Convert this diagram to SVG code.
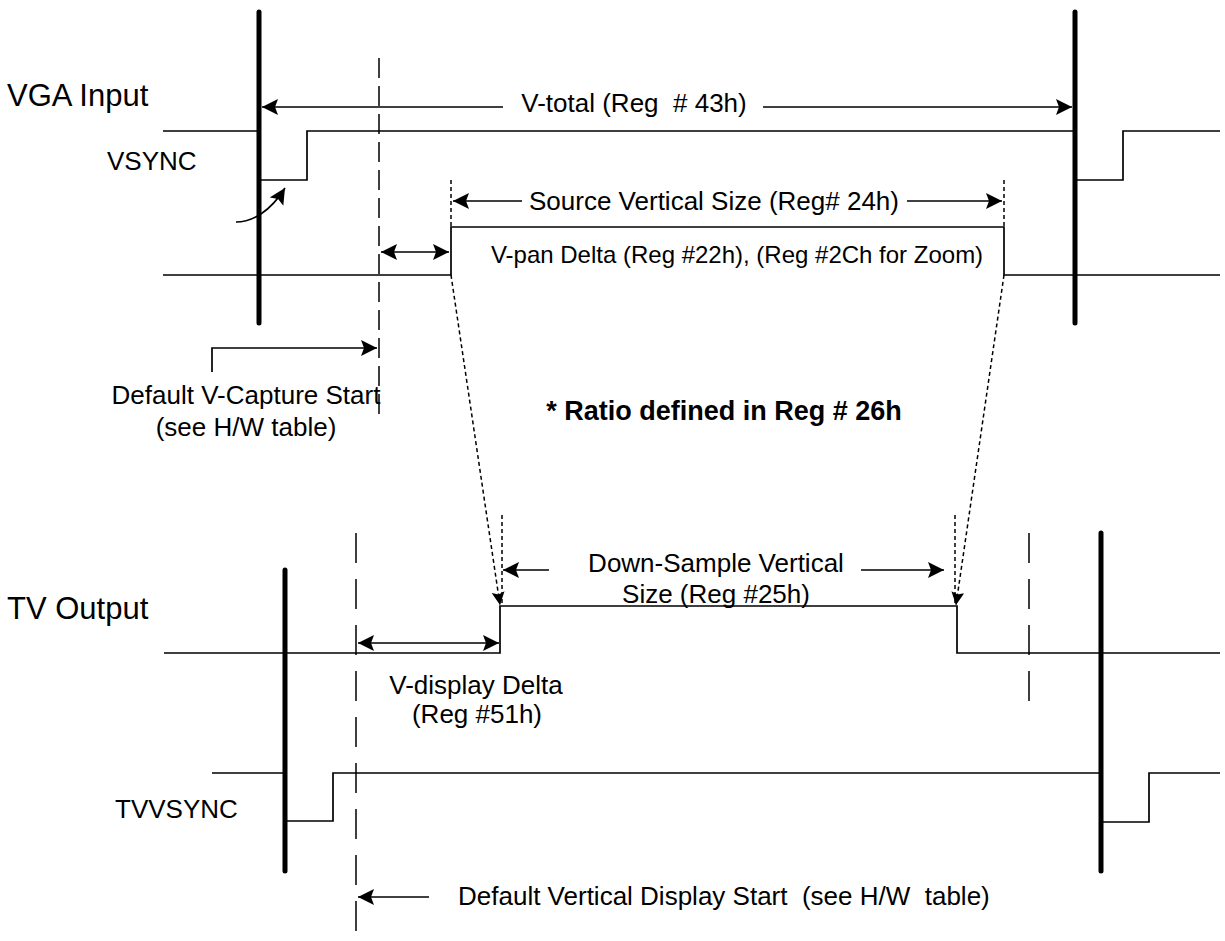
<svg xmlns="http://www.w3.org/2000/svg" width="1225" height="941" viewBox="0 0 1225 941">
<style>
.t{font-family:"Liberation Sans",Arial,sans-serif;fill:#000;white-space:pre}
.w{fill:none;stroke:#000;stroke-width:1.7}
.thick{fill:none;stroke:#000;stroke-width:5;stroke-linecap:round}
.dl{fill:none;stroke:#000;stroke-width:1.5;stroke-dasharray:20 8}
.dl2{fill:none;stroke:#000;stroke-width:1.5;stroke-dasharray:30 16}
.dot{fill:none;stroke:#000;stroke-width:1.5;stroke-dasharray:4 3}
.a{fill:none;stroke:#000;stroke-width:1.7}
</style>
<defs>
<marker id="ah" markerUnits="userSpaceOnUse" markerWidth="17" markerHeight="17" refX="16" refY="8" orient="auto-start-reverse"><path d="M0,0 L16,8 L0,16 L3,8 z" fill="#000"/></marker>
<marker id="ahs" markerUnits="userSpaceOnUse" markerWidth="14" markerHeight="14" refX="13" refY="6.5" orient="auto"><path d="M0,0 L13,6.5 L0,13 L2.5,6.5 z" fill="#000"/></marker>
</defs>
<rect width="1225" height="941" fill="#fff"/>

<g id="vga-input">
<text class="t" x="7" y="106" font-size="31">VGA Input</text>
<text class="t" x="107" y="170" font-size="26">VSYNC</text>
<line class="thick" x1="259" y1="12" x2="259" y2="323"/>
<line class="thick" x1="1075" y1="12" x2="1075" y2="323"/>
<path class="w" d="M163,131 H259 V180 H307 V131 H1075 V180 H1123 V131 H1220"/>
<path class="w" d="M163,275 H451 V227 H1004 V275 H1220"/>
<line class="dl" x1="379" y1="58" x2="379" y2="422"/>
<line class="dot" x1="451" y1="180" x2="451" y2="227"/>
<line class="dot" x1="1004" y1="180" x2="1004" y2="227"/>
<text class="t" x="634" y="112" font-size="26" text-anchor="middle">V-total (Reg  # 43h)</text>
<text class="t" x="714" y="210" font-size="26" text-anchor="middle">Source Vertical Size (Reg# 24h)</text>
<text class="t" x="737" y="263" font-size="24" text-anchor="middle">V-pan Delta (Reg #22h), (Reg #2Ch for Zoom)</text>
<text class="t" x="246" y="404" font-size="26" text-anchor="middle">Default V-Capture Start</text>
<text class="t" x="246" y="436" font-size="26" text-anchor="middle">(see H/W table)</text>
</g>

<g id="ratio-note">
<text class="t" x="724" y="420" font-size="27" font-weight="bold" text-anchor="middle">* Ratio defined in Reg # 26h</text>
</g>

<g id="tv-output">
<text class="t" x="7" y="619" font-size="31">TV Output</text>
<text class="t" x="115" y="818" font-size="26">TVVSYNC</text>
<line class="thick" x1="285" y1="570" x2="285" y2="871"/>
<line class="thick" x1="1101" y1="533" x2="1101" y2="871"/>
<line class="dl2" x1="356" y1="533" x2="356" y2="941"/>
<line class="dl2" x1="1029" y1="533" x2="1029" y2="705"/>
<path class="w" d="M164,653 H500 V606 H957 V653 H1220"/>
<path class="w" d="M212,773 H285 V821 H333 V773 H1101 V822 H1149 V773 H1220"/>
<line class="dot" x1="502" y1="515" x2="502" y2="606"/>
<line class="dot" x1="955" y1="515" x2="955" y2="606"/>
<text class="t" x="716" y="572" font-size="26" text-anchor="middle">Down-Sample Vertical</text>
<text class="t" x="716" y="603" font-size="26" text-anchor="middle">Size (Reg #25h)</text>
<text class="t" x="476" y="694" font-size="26" text-anchor="middle">V-display Delta</text>
<text class="t" x="477" y="723" font-size="26" text-anchor="middle">(Reg #51h)</text>
<text class="t" x="458" y="905" font-size="26">Default Vertical Display Start  (see H/W  table)</text>
</g>

<g id="connectors">
<line class="a" x1="262" y1="107" x2="503" y2="107" marker-start="url(#ah)"/>
<line class="a" x1="763" y1="107" x2="1072" y2="107" marker-end="url(#ah)"/>
<line class="a" x1="453" y1="201" x2="522" y2="201" marker-start="url(#ah)"/>
<line class="a" x1="907" y1="201" x2="1002" y2="201" marker-end="url(#ah)"/>
<line class="a" x1="381" y1="252" x2="449" y2="252" marker-start="url(#ah)" marker-end="url(#ah)"/>
<path class="a" d="M236,222 C252,222 270,212 285,188" marker-end="url(#ah)"/>
<path class="a" d="M212,372 V348 H377" marker-end="url(#ah)"/>
<line class="dot" x1="451" y1="275" x2="500" y2="605" marker-end="url(#ahs)"/>
<line class="dot" x1="1004" y1="275" x2="956" y2="605" marker-end="url(#ahs)"/>
<line class="a" x1="503" y1="570" x2="549" y2="570" marker-start="url(#ah)"/>
<line class="a" x1="861" y1="570" x2="944" y2="570" marker-end="url(#ah)"/>
<line class="a" x1="358" y1="643" x2="499" y2="643" marker-start="url(#ah)" marker-end="url(#ah)"/>
<line class="a" x1="358" y1="897" x2="429" y2="897" marker-start="url(#ah)"/>
</g>
</svg>
